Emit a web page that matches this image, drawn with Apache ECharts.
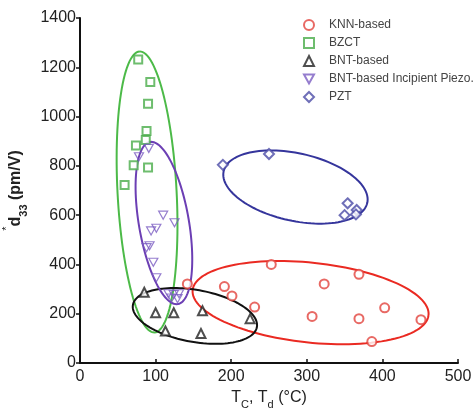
<!DOCTYPE html>
<html>
<head>
<meta charset="utf-8">
<script src="https://cdn.jsdelivr.net/npm/echarts@6/dist/echarts.min.js"></script>
<style>
html,body{margin:0;padding:0;background:#fff;}
#chart{width:474px;height:410px;}
</style>
</head>
<body>
<div id="chart"></div>
<script>
// ---- data ----
var seriesNames = ['KNN-based', 'BZCT', 'BNT-based', 'BNT-based Incipient Piezo.', 'PZT'];

var knnPts = [[142,321],[191,310],[201,272],[231,227],[253,400],[323,321],[369,360],
              [307,189],[369,180],[403,224],[451,176],[386,87]];
var bzctPts = [[77,1232],[93,1140],[90,1052],[88,941],[87,905],[74,883],[71,802],[90,793],[59,722]];
var bntPts = [[85,287],[100,204],[124,204],[162,212],[113,130],[160,120],[225,180]];
var incipPts = [[91,871],[78,837],[110,600],[125,569],[101,547],[94,536],[88,468],[92,476],
                [97,409],[101,346],[117,281],[124,278],[131,281],[129,261],[121,264]];
var pztPts = [[189,804],[250,848],[354,648],[366,621],[350,600],[365,603]];

// ellipses (data units): centre x, centre y, semi-axis u (dx,dy), semi-axis v (dx,dy)
var ellKnn   = [305, 245, 156, -51, -5.6, -161];
var ellBzct  = [88.7, 694, -9.9, 570, 39, 6.4];
var ellBnt   = [152, 191, 82, -45, -6.0, -104];
var ellIncip = [111, 568, -18.5, 329, 32.6, 17.5];
var ellPzt   = [285, 714, 95, -64, -9.5, -134];

var xTicks = [0, 100, 200, 300, 400, 500];
var yTicks = [0, 200, 400, 600, 800, 1000, 1200, 1400];

// ---- styles ----
var markColors = ['#e2433d', '#4aac4a', '#222222', '#7b5cc2', '#4b4ba6'];
var lineColors = ['#ea2a22', '#4cba48', '#111111', '#6c3fb4', '#35359c'];
var symbols = ['emptyCircle', 'emptyRect', 'emptyTriangle', 'path://M0,0L10,0L5,9Z', 'emptyDiamond'];
var sizes = [9, 8, 9, [9, 8], 10];
var allPts = [knnPts, bzctPts, bntPts, incipPts, pztPts];
var allEll = [ellKnn, ellBzct, ellBnt, ellIncip, ellPzt];

var FONT = 'Liberation Sans';

function ellipseRender(params, api) {
  var cx = api.value(0), cy = api.value(1), ux = api.value(2), uy = api.value(3), vx = api.value(4), vy = api.value(5);
  var pts = [];
  var n = 120;
  for (var i = 0; i <= n; i++) {
    var t = i / n * Math.PI * 2;
    pts.push(api.coord([cx + ux * Math.cos(t) + vx * Math.sin(t), cy + uy * Math.cos(t) + vy * Math.sin(t)]));
  }
  return {
    type: 'polyline',
    shape: { points: pts },
    style: { stroke: api.visual('color'), fill: 'none', lineWidth: 2 }
  };
}

var series = [];
for (var k = 0; k < 5; k++) {
  series.push({
    type: 'custom',
    name: 'ell' + k,
    renderItem: ellipseRender,
    data: [allEll[k]],
    encode: { x: 0, y: 1 },
    itemStyle: { color: lineColors[k] },
    clip: false,
    silent: true,
    z: 1
  });
}
for (var j = 0; j < 5; j++) {
  var isPath = symbols[j].indexOf('path://') === 0;
  series.push({
    type: 'scatter',
    name: seriesNames[j],
    data: allPts[j],
    symbol: symbols[j],
    symbolSize: sizes[j],
    itemStyle: isPath
      ? { color: 'rgba(255,255,255,0)', borderColor: markColors[j], borderWidth: 1.2 }
      : { color: markColors[j], borderColor: markColors[j], borderWidth: 1.2 },
    z: 3
  });
}

var chart = echarts.init(document.getElementById('chart'), null, { renderer: 'canvas' });
chart.setOption({
  animation: false,
  backgroundColor: '#ffffff',
  grid: { left: 80, right: 16, top: 18, bottom: 47, containLabel: false, outerBoundsMode: 'none' },
  legend: {
    data: seriesNames,
    orient: 'vertical',
    left: 298,
    top: 14,
    itemWidth: 10,
    itemHeight: 10,
    itemGap: 6,
    textStyle: { fontFamily: FONT, fontSize: 12, color: '#444', padding: [0, 0, 0, 10] },
    selectedMode: false
  },
  xAxis: {
    type: 'value',
    min: 0, max: 500, interval: 100,
    name: '{n|T}{s|C}{n|, T}{s|d}{n| (°C)}',
    nameLocation: 'middle',
    nameGap: 27,
    nameTextStyle: {
      rich: {
        n: { fontFamily: FONT, fontSize: 16, color: '#222' },
        s: { fontFamily: FONT, fontSize: 11, color: '#222', verticalAlign: 'bottom', padding: [0, 0, -4, 0] }
      }
    },
    axisLine: { lineStyle: { color: '#111', width: 2 } },
    axisTick: { inside: true, length: 4, lineStyle: { color: '#111', width: 1.5 } },
    axisLabel: { fontFamily: FONT, fontSize: 16, color: '#222', margin: 6, formatter: function (v) { return String(v); } },
    splitLine: { show: false }
  },
  yAxis: {
    type: 'value',
    min: 0, max: 1400, interval: 200,
    name: '{p|*}{n|d}{s|33}{n| (pm/V)}',
    nameLocation: 'middle',
    nameGap: 48,
    nameRotate: 90,
    nameTextStyle: {
      rich: {
        n: { fontFamily: FONT, fontSize: 16, color: '#222', fontWeight: 'bold' },
        s: { fontFamily: FONT, fontSize: 11, color: '#222', fontWeight: 'bold', verticalAlign: 'bottom', padding: [0, 0, -6, 0] },
        p: { fontFamily: FONT, fontSize: 11, color: '#222', verticalAlign: 'top', padding: [-6, 0, 0, 0] }
      }
    },
    axisLine: { show: true, lineStyle: { color: '#111', width: 2 } },
    axisTick: { show: true, inside: false, length: 4, lineStyle: { color: '#111', width: 1.5 } },
    axisLabel: { fontFamily: FONT, fontSize: 16, color: '#222', margin: 4, formatter: function (v) { return String(v); } },
    splitLine: { show: false }
  },
  series: series
});
</script>
</body>
</html>
